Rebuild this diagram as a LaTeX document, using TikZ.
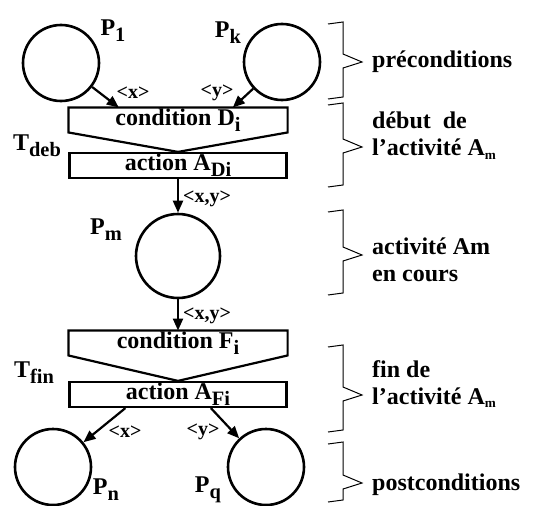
\documentclass[tikz,border=0pt]{standalone}
\usepackage{fontspec}
\setmainfont{Liberation Serif}
\usetikzlibrary{arrows.meta,positioning,calc}
\newcommand{\low}[1]{\raisebox{-.55ex}{\scalebox{.85}{#1}}}
\newcommand{\lowsm}[1]{\raisebox{-.35ex}{\scalebox{.55}{#1}}}

\begin{document}
\begin{tikzpicture}[x=1pt,y=-1pt,
  font=\fontsize{24}{27}\selectfont\bfseries,
  place/.style={circle,draw,line width=2.6pt,minimum size=76pt,inner sep=0pt},
  bar/.style={draw,line width=2.2pt,minimum width=217pt,minimum height=25pt,inner sep=0pt},
  arc/.style={-{Triangle[length=12pt,width=10pt]},line width=2.2pt},
  tok/.style={font=\fontsize{20}{24}\selectfont\bfseries,inner sep=1pt},
  brace/.style={line width=1pt,line join=miter},
  note/.style={anchor=west,align=left,inner sep=0pt}]
  \useasboundingbox (0,0) rectangle (533,506);

  % debut de l'activite
  \node[place] (p1) at (61,63) {};
  \node[place] (pk) at (282,62) {};
  \node (p1lbl) at (113,31) {P\low{1}};
  \node (pklbl) at (228,33) {P\low{k}};
  \node[bar,draw=none,minimum height=20pt] (cd) at (178,120) {condition D\low{i}};
  \node[bar] (ad) at (178,165.5) {action A\low{Di}};
  \draw[line width=2.2pt] (cd.north west) -- (cd.north east) -- (cd.south east)
    -- (ad.north) -- (cd.south west) -- cycle;
  \node (tdeb) at (37,146) {T\low{deb}};
  \coordinate (cdl) at ($(cd.north west)!.23!(cd.north east)$);
  \coordinate (cdr) at ($(cd.north west)!.75!(cd.north east)$);
  \draw[arc] (p1) -- (cdl);
  \draw[arc] (pk) -- (cdr);
  \node[tok] (tx1) at (133,93) {<x>};
  \node[tok] (ty1) at (217,93) {<y>};

  % activite en cours
  \node[place,minimum size=84pt] (pm) at (178,256) {};
  \node (pmlbl) at (106,230) {P\low{m}};
  \draw[arc] (ad.south) -- (pm.north);
  \node[tok,anchor=west] (txy1) at (182,199) {<x,y>};

  % fin de l'activite
  \node[bar,draw=none,minimum height=20pt] (cf) at (178,343) {condition F\low{i}};
  \node[bar] (af) at (178,394.5) {action A\low{Fi}};
  \draw[line width=2.2pt] (cf.north west) -- (cf.north east) -- (cf.south east)
    -- (af.north) -- (cf.south west) -- cycle;
  \node (tfin) at (34,373) {T\low{fin}};
  \draw[arc] (pm.south) -- (cf.north);
  \node[tok,anchor=west] (txy2) at (182,316) {<x,y>};

  \node[place] (pn) at (53,467) {};
  \node[place] (pq) at (266,467) {};
  \node (pnlbl) at (106,490) {P\low{n}};
  \node (pqlbl) at (208,490) {P\low{q}};
  \coordinate (afl) at ($(af.south west)!.26!(af.south east)$);
  \coordinate (afr) at ($(af.south west)!.65!(af.south east)$);
  \draw[arc] (afl) -- (pn);
  \draw[arc] (afr) -- (pq);
  \node[tok] (tx2) at (125,432) {<x>};
  \node[tok] (ty2) at (203,432) {<y>};

  % accolades
  \foreach \t/\m/\b in {22/62/97,103/147/185,210/255/293,345/395/430,442/483/500}
    \draw[brace] (328,\t+2) -- (343,\t) -- (343,\m-8) -- (362,\m)
      -- (343,\m+6) -- (343,\b) -- (328,\b+2);
  \node[note] (pre) at (372,62) {préconditions};
  \node[note] (deb) at (372,136) {début\ \ de\\l’activité A\lowsm{m}};
  \node[note] (enc) at (372,260) {activité Am\\en cours};
  \node[note] (fin) at (372,384) {fin de\\l’activité A\lowsm{m}};
  \node[note] (post) at (372,485) {postconditions};
\end{tikzpicture}
\end{document}
